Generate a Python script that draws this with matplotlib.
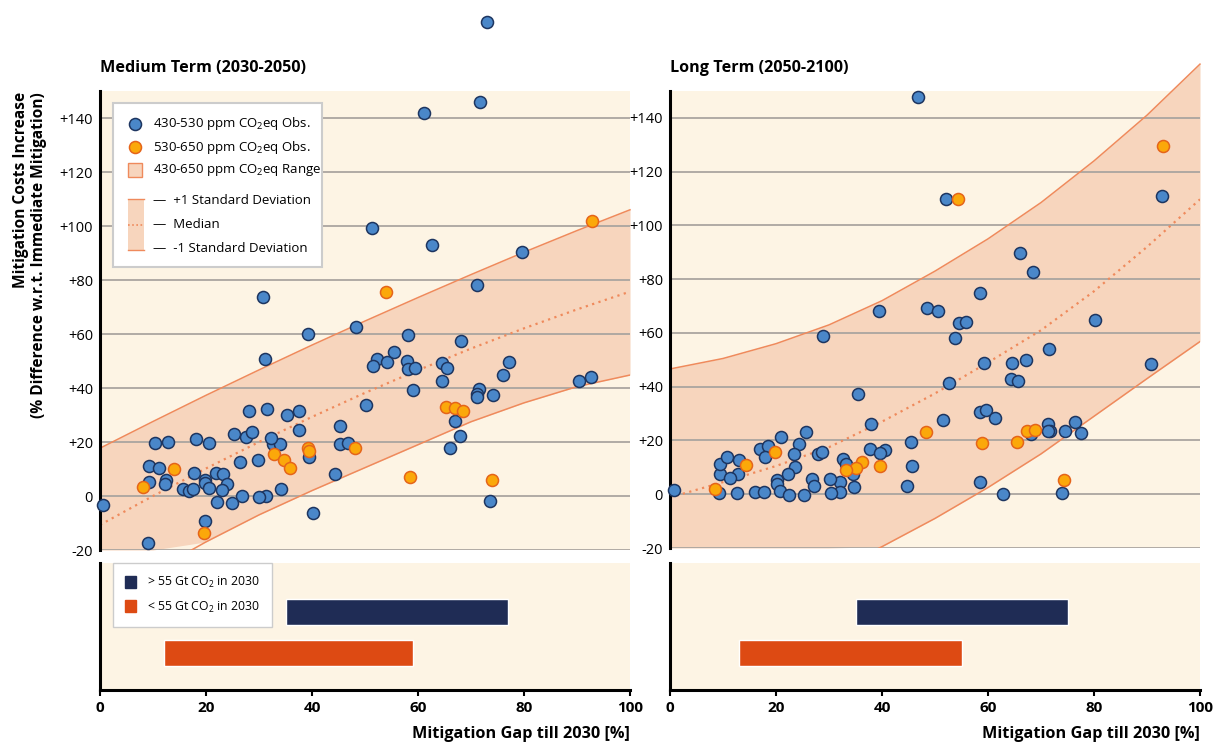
import numpy as np
import matplotlib.pyplot as plt
from matplotlib.patches import Rectangle, Patch

plt.rcParams['font.family'] = ['Open Sans', 'DejaVu Sans']
plt.rcParams['mathtext.default'] = 'regular'

# colours
CREAM = '#fdf4e4'
BAND = '#f7d5bd'
BAND_EDGE = '#ef8a5c'
BLUE = '#4a87c9'
BLUE_EDGE = '#1d3560'
ORANGE = '#fba80a'
ORANGE_EDGE = '#e5641a'
NAVY = '#1f2c55'
RED = '#dd4a13'
GRID = '#aaa5a0'

# ---- medium term (2030-2050) observations ----
mid_blue_x = [73.0, 61.1, 71.7, 51.3, 62.6, 79.6, 71.2, 30.7, 39.2, 48.3, 58.1, 68.2, 31.1,
              55.5, 52.3, 51.6, 54.1, 57.9, 58.1, 59.4, 64.5, 65.4, 64.5, 59.0, 50.2, 77.2,
              76.0, 71.6, 71.1, 71.1, 74.1, 90.4, 92.6, 66.9, 67.9, 66.0, 73.6, 28.1, 31.6,
              35.2, 37.5, 37.6, 45.2, 32.7, 34.0, 39.4, 45.2, 46.7, 44.3, 34.2, 31.4, 40.1,
              10.4, 12.8, 18.2, 20.5, 25.3, 27.5, 28.7, 32.2, 26.4, 29.9, 9.2, 11.1, 9.2,
              12.5, 12.2, 17.7, 19.8, 19.8, 21.9, 23.3, 24.0, 20.6, 23.1, 15.7, 16.7, 17.6,
              26.8, 30.0, 22.0, 25.0, 0.5, 19.8, 9.0]
mid_blue_y = [175.5, 141.9, 146.0, 99.3, 93.0, 90.4, 78.1, 73.8, 60.0, 62.5, 59.6, 57.5, 50.7,
              53.4, 50.6, 48.1, 49.7, 50.0, 46.9, 47.3, 49.4, 47.5, 42.6, 39.3, 33.7, 49.6,
              44.7, 39.5, 37.8, 36.8, 37.3, 42.6, 44.2, 27.9, 22.2, 17.9, -1.9, 31.6, 32.3,
              30.0, 31.5, 24.4, 25.9, 19.1, 19.4, 14.6, 19.3, 19.5, 8.3, 2.6, 0.0, -6.4,
              19.8, 20.1, 21.2, 19.5, 23.1, 22.0, 23.8, 21.4, 12.5, 13.2, 11.2, 10.4, 5.2,
              5.8, 4.3, 8.6, 5.9, 4.9, 8.4, 8.0, 4.3, 3.0, 2.2, 2.5, 1.9, 2.6,
              0.0, -0.5, -2.3, -2.7, -3.5, -9.3, -17.3]
mid_orange_x = [54.0, 32.9, 34.8, 35.9, 39.3, 39.4, 48.1, 58.5, 65.3, 67.0, 68.4, 74.0, 92.8,
                14.0, 8.2, 19.6]
mid_orange_y = [75.4, 15.4, 13.3, 10.5, 17.9, 16.8, 17.9, 7.0, 32.8, 32.7, 31.6, 5.8, 101.9,
                10.0, 3.3, -13.6]

# ---- long term (2050-2100) observations ----
long_blue_x = [46.8, 52.1, 92.8, 66.0, 68.5, 39.5, 48.5, 50.6, 58.4, 54.5, 55.8, 53.8, 59.3,
               64.5, 64.3, 65.7, 52.6, 35.5, 58.4, 59.7, 61.3, 51.6, 37.9, 45.5, 37.8, 40.6,
               39.6, 32.6, 33.3, 34.5, 45.6, 32.1, 32.1, 34.8, 44.7, 58.4, 62.9, 80.1, 71.5,
               67.2, 90.8, 71.3, 71.7, 71.3, 76.4, 74.5, 77.5, 68.2, 73.9, 28.9,
               0.75, 9.3, 9.4, 9.4, 10.7, 13.0, 12.9, 11.4, 12.6, 16.0, 17.8, 17.0, 18.5,
               18.0, 20.9, 25.6, 24.3, 23.4, 23.6, 22.2, 20.1, 20.1, 20.8, 22.4, 25.3, 26.7,
               27.2, 28.0, 28.6, 30.2, 30.4]
long_blue_y = [147.8, 109.7, 110.8, 89.6, 82.8, 68.3, 69.3, 68.0, 74.7, 63.6, 64.2, 58.1, 48.9,
               48.8, 42.8, 42.2, 41.4, 37.3, 30.5, 31.3, 28.5, 27.7, 26.2, 19.3, 16.7, 16.3,
               15.4, 13.1, 11.4, 7.7, 10.4, 4.5, 0.7, 2.7, 3.0, 4.6, 0.0, 64.7, 54.0,
               50.0, 48.6, 26.2, 23.6, 23.5, 26.8, 23.5, 22.6, 22.3, 0.6, 59.0,
               1.5, 0.3, 7.7, 11.1, 13.9, 12.7, 7.7, 6.0, 0.6, 0.9, 0.7, 17.0, 17.9,
               13.9, 21.4, 23.3, 18.8, 15.0, 10.0, 7.5, 5.2, 3.7, 1.1, -0.4, -0.2, 5.7,
               3.0, 14.9, 15.8, 5.7, 0.3]
long_orange_x = [54.3, 93.0, 48.3, 58.8, 65.5, 36.2, 35.1, 33.3, 39.7, 67.3, 68.8, 74.3, 8.5,
                 14.3, 19.9]
long_orange_y = [109.7, 129.5, 23.1, 19.1, 19.3, 12.1, 9.6, 9.0, 10.6, 23.6, 23.9, 5.2, 2.1,
                 10.9, 15.8]

# ---- range bands (read every 10 % of mitigation gap) ----
gap = [0, 10, 20, 30, 40, 50, 60, 70, 80, 90, 100]
mid_upper = [17.7, 27.6, 37.3, 46.7, 55.9, 64.8, 73.5, 82.0, 90.3, 98.3, 106.0]
mid_median = [-10.7, 0.0, 10.2, 20.0, 29.3, 38.2, 46.6, 54.6, 62.1, 69.1, 75.7]
mid_lower = [-40.0, -28.0, -17.0, -7.0, 2.0, 10.5, 19.0, 27.5, 34.5, 40.5, 44.8]
long_upper = [46.6, 50.5, 56.0, 63.0, 72.0, 83.0, 95.0, 108.5, 124.0, 141.0, 160.0]
long_median = [-1.2, 4.5, 10.5, 17.5, 27.0, 37.5, 49.0, 61.0, 75.5, 92.0, 109.7]
long_lower = [-47.0, -42.0, -36.0, -29.0, -19.5, -9.0, 2.5, 15.0, 29.0, 43.0, 56.8]

# ---- 2030 emission bars (start, end of mitigation gap) ----
bar_labels = ['< 55 Gt CO$_2$ in 2030', '> 55 Gt CO$_2$ in 2030']
mid_bars = [(12, 59), (35, 77)]
long_bars = [(13, 55), (35, 75)]

y_ticks = [-20, 0, 20, 40, 60, 80, 100, 120, 140]
x_ticks = [0, 20, 40, 60, 80, 100]

W, H = 1213, 747


def px_axes(l, t, w, h):
    return [l / W, 1 - (t + h) / H, w / W, h / H]


def tick_label(v):
    return f'+{v}' if v > 0 else f'{v}'


def draw_scatter_panel(ax, bx, by, ox, oy, upper, median, lower):
    ax.set_facecolor(CREAM)
    ax.set_xlim(0, 100)
    ax.set_ylim(-20, 150)
    lo = np.maximum(lower, -20)
    hi = np.array(upper)
    ax.fill_between(gap, lo, hi, color=BAND, lw=0, zorder=0.3, clip_on=False)
    ax.plot(gap, upper, color=BAND_EDGE, lw=1.1, zorder=1, clip_on=False)
    ax.plot(gap, lower, color=BAND_EDGE, lw=1.1, zorder=1)
    ax.plot(gap, median, color=BAND_EDGE, lw=1.6, ls=(0, (1, 2)), zorder=1)
    ax.scatter(bx, by, s=75, color=BLUE, edgecolor=BLUE_EDGE, lw=1.1, zorder=3, clip_on=False)
    ax.scatter(ox, oy, s=75, color=ORANGE, edgecolor=ORANGE_EDGE, lw=1.1, zorder=4, clip_on=False)
    ax.set_yticks(y_ticks)
    ax.set_yticklabels([tick_label(v) for v in y_ticks])
    ax.set_xticks([])
    ax.yaxis.grid(True, color=GRID, lw=1.3)
    ax.set_axisbelow(True)
    ax.tick_params(axis='y', length=0, pad=5, labelsize=10.5)
    for s in ['top', 'right', 'bottom']:
        ax.spines[s].set_visible(False)
    ax.spines['left'].set_linewidth(2.2)


def draw_bar_panel(ax, bars, legend=False):
    ax.set_facecolor(CREAM)
    for i, (a, b) in enumerate(bars):
        ax.barh(i, b - a, left=a, height=0.63, color=[RED, NAVY][i], edgecolor='white', lw=1)
    ax.set_xlim(0, 100)
    ax.set_ylim(-0.9, 2.2)
    ax.set_yticks([])
    ax.set_xticks(x_ticks)
    ax.tick_params(axis='x', length=4, width=1.5, labelsize=11, pad=4)
    for lab in ax.get_xticklabels():
        lab.set_fontweight('bold')
    for s in ['top', 'right']:
        ax.spines[s].set_visible(False)
    ax.spines['left'].set_linewidth(2.2)
    ax.spines['bottom'].set_linewidth(2.2)
    ax.set_xlabel('Mitigation Gap till 2030 [%]', loc='right', fontsize=11.7,
                  fontweight='bold', labelpad=8)
    if legend:
        handles = [Patch(color=NAVY, label=bar_labels[1]), Patch(color=RED, label=bar_labels[0])]
        leg = ax.legend(handles=handles, loc='upper left', bbox_to_anchor=(0.025, 1.0),
                        borderaxespad=0, fancybox=False, fontsize=8.8, handlelength=0.85,
                        handleheight=1.1, handletextpad=0.9, borderpad=1.0, labelspacing=0.75,
                        framealpha=1)
        leg.get_frame().set_edgecolor('#cccccc')


# legend of the scatter panel, positions given in pixels of the panel
def draw_main_legend(ax, left, top, w, h):
    def to_ax(px, py):
        return (px - left) / w, (top + h - py) / h

    kw = dict(transform=ax.transAxes, clip_on=False)
    x0, y0 = to_ax(113, 267)
    x1, y1 = to_ax(322, 103)
    ax.add_patch(Rectangle((x0, y0), x1 - x0, y1 - y0, facecolor='white',
                           edgecolor='#cccccc', lw=1.5, zorder=6, **kw))
    tx, _ = to_ax(153, 0)
    rows = [124, 147, 170]
    ax.scatter(*to_ax(135, rows[0]), s=75, color=BLUE, edgecolor=BLUE_EDGE, lw=1.1, zorder=7, **kw)
    ax.scatter(*to_ax(135, rows[1]), s=75, color=ORANGE, edgecolor=ORANGE_EDGE, lw=1.1, zorder=7, **kw)
    sx0, sy0 = to_ax(128, 177)
    sx1, sy1 = to_ax(142, 163)
    ax.add_patch(Rectangle((sx0, sy0), sx1 - sx0, sy1 - sy0, facecolor=BAND,
                           edgecolor=BAND_EDGE, lw=1, zorder=7, **kw))
    bx0, by0 = to_ax(128, 250)
    bx1, by1 = to_ax(144, 199)
    ax.add_patch(Rectangle((bx0, by0), bx1 - bx0, by1 - by0, facecolor=BAND, lw=0, zorder=7, **kw))
    ax.plot([bx0, bx1], [by1, by1], color=BAND_EDGE, lw=1, zorder=8, **kw)
    ax.plot([bx0, bx1], [by0, by0], color=BAND_EDGE, lw=1, zorder=8, **kw)
    mid = to_ax(0, 225)[1]
    ax.plot([bx0, bx1], [mid, mid], color=BAND_EDGE, lw=1.2, ls=(0, (1, 1.5)), zorder=8, **kw)
    texts = [(124, '430-530 ppm CO$_2$eq Obs.'), (147, '530-650 ppm CO$_2$eq Obs.'),
             (170, '430-650 ppm CO$_2$eq Range')]
    for py, t in texts:
        ax.text(tx, to_ax(0, py)[1], t, fontsize=9.5, va='center', zorder=8, **kw)
    texts2 = [(200, '\u2014  +1 Standard Deviation'), (225, '\u2014  Median'),
              (248, '\u2014  -1 Standard Deviation')]
    for py, t in texts2:
        ax.text(tx, to_ax(0, py)[1], t, fontsize=9.5, va='center', zorder=8, **kw)


fig = plt.figure(figsize=(W / 100, H / 100), dpi=100)

ax1 = fig.add_axes(px_axes(100, 91, 530, 459))
draw_scatter_panel(ax1, mid_blue_x, mid_blue_y, mid_orange_x, mid_orange_y,
                   mid_upper, mid_median, mid_lower)
draw_main_legend(ax1, 100, 91, 530, 459)

ax2 = fig.add_axes(px_axes(670, 91, 530, 457))
draw_scatter_panel(ax2, long_blue_x, long_blue_y, long_orange_x, long_orange_y,
                   long_upper, long_median, long_lower)

ax3 = fig.add_axes(px_axes(100, 563, 530, 127))
draw_bar_panel(ax3, mid_bars, legend=True)
ax4 = fig.add_axes(px_axes(670, 563, 530, 127))
draw_bar_panel(ax4, long_bars)

fig.text(100 / W, 1 - 68 / H, 'Medium Term (2030-2050)', fontsize=11.6, fontweight='bold', va='center')
fig.text(670 / W, 1 - 68 / H, 'Long Term (2050-2100)', fontsize=11.6, fontweight='bold', va='center')
fig.text(30 / W, 1 - 92 / H, 'Mitigation Costs Increase\n(% Difference w.r.t. Immediate Mitigation)',
         rotation=90, ha='center', va='top', fontsize=11.2, fontweight='bold',
         multialignment='right', linespacing=1.15)

fig.savefig('out.png', dpi=100)
